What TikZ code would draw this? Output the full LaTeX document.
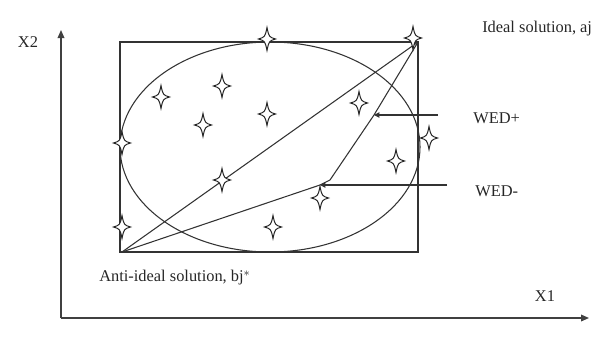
\documentclass[tikz,border=0pt]{standalone}
\usepackage{fontspec}
\setmainfont{Liberation Serif}
\usetikzlibrary{arrows.meta}
\tikzset{
  ln/.style={draw=black!80, line width=0.8pt},
  axis/.style={draw=black!75, line width=1pt, -{Triangle[length=6pt,width=5pt]}},
  wedarrow/.style={draw=black!80, line width=0.8pt, -{Triangle[length=4pt,width=4pt]}},
  lbl/.style={font=\fontsize{12.3}{14}\selectfont, text=black!85, inner sep=0pt},
  sparkle/.pic={\draw[draw=black!85, fill=white, line width=0.75pt]
    (0,-11.5) .. controls (2,-2) .. (8.5,0) .. controls (2,2) .. (0,11.5)
    .. controls (-2,2) .. (-8.5,0) .. controls (-2,-2) .. cycle;}
}
\begin{document}
\begin{tikzpicture}[x=0.75pt,y=-0.75pt]
\useasboundingbox (0,0) rectangle (599,339);
% axes
\coordinate (O) at (61,318);
\coordinate (Ytop) at (61,30);
\coordinate (Xend) at (589,318);
\draw[axis] (O) -- (Ytop);
\draw[axis] (O) -- (Xend);
% rectangle and ellipse
\draw[ln] (120,42) rectangle (418,252);
\draw[ln] (270,147) ellipse [x radius=150, y radius=105];
% key points
\coordinate (A) at (122,252);
\coordinate (I) at (418,42);
\coordinate (Wm) at (320,185);
\coordinate (B) at (330,180);
\coordinate (Wp) at (374,115);
\draw[ln] (A) -- (I);
\draw[ln] (A) -- (Wm) -- (B) -- (Wp) -- (I);
% stars
\foreach \p in {(267,39),(413,38),(161,97),(222,86),(203,125),(267,114),(359,103),(122,143),(429,138),(396,161),(222,180),(320,198),(273,227),(122,227)}
  \pic at \p {sparkle};
% WED arrows
\coordinate (Pp) at (438,115);
\coordinate (Pm) at (447,185);
\draw[wedarrow] (Pp) -- (Wp);
\draw[wedarrow] (Pm) -- (Wm);
% labels
\node[lbl, anchor=west] (wedp) at (473,118) {WED+};
\node[lbl, anchor=west] (wedm) at (475,191) {WED-};
\node[lbl, anchor=west] (ideal) at (482,29) {Ideal solution, aj};
\node[lbl, anchor=west] (anti) at (99,278) {Anti-ideal solution, bj$^{*}$};
\node[lbl] (x2) at (28,42) {X2};
\node[lbl] (x1) at (545,296) {X1};
\end{tikzpicture}
\end{document}
